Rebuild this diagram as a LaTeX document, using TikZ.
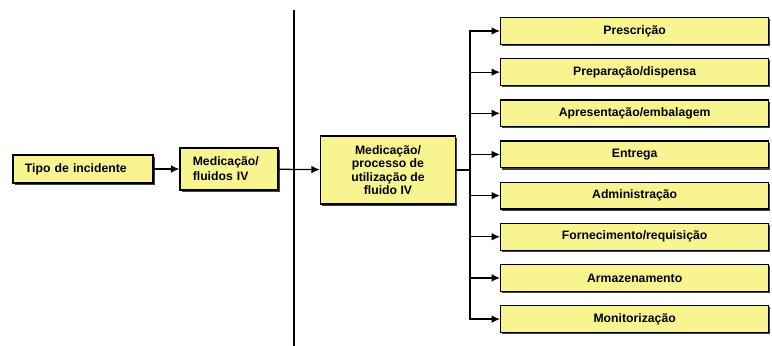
\documentclass[tikz,border=0pt]{standalone}
\usepackage{fontspec}
\setmainfont{Liberation Sans}
\usetikzlibrary{arrows.meta, positioning, shadows}
\definecolor{boxyellow}{HTML}{F8F490}

\begin{document}
\begin{tikzpicture}[
    x=0.025cm, y=-0.025cm,
    box/.style={rectangle, draw=black, line width=0.9pt, fill=boxyellow, font=\fontsize{8.7}{9.6}\selectfont\bfseries, drop shadow={shadow xshift=1.2pt, shadow yshift=-1.2pt, fill=black!75, opacity=1}},
    stage/.style={box, minimum width=6.7cm, minimum height=0.67cm, text centered},
    arr/.style={line width=0.9pt, -{Latex[length=6pt, width=5.5pt]}},
    wire/.style={line width=0.9pt},
    node distance=0.327cm
  ]
    \useasboundingbox (0,0) rectangle (772,346);

    % --- Left chain ---
    \node[box, minimum height=0.7cm, inner xsep=0.3cm, text width=2.9cm, align=left] (tipo) at (83,169) {Tipo de incidente};
    \node[box, minimum height=1.05cm, inner xsep=0.32cm, text width=1.81cm, align=left, font=\fontsize{8.7}{10.6}\selectfont\bfseries] (fluid) at (229,169) {Medicação/\\fluidos IV};
    \node[box, minimum width=3.375cm, minimum height=1.7cm, align=center] (proc) at (388,170) {Medicação/\\processo de\\utilização de\\fluido IV};

    % --- Stages ---
    \node[stage, anchor=west] (presc) at (500,31) {Prescrição};
    \node[stage, below=of presc] (prep) {Preparação/dispensa};
    \node[stage, below=of prep] (apres) {Apresentação/embalagem};
    \node[stage, below=of apres] (entr) {Entrega};
    \node[stage, below=of entr] (admin) {Administração};
    \node[stage, below=of admin] (forn) {Fornecimento/requisição};
    \node[stage, below=of forn] (armaz) {Armazenamento};
    \node[stage, below=of armaz] (monit) {Monitorização};

    % --- Divider ---
    \coordinate (divtop) at (294,10);
    \coordinate (divbot) at (294,346);
    \draw[wire] (divtop) -- (divbot);

    % --- Arrows ---
    \draw[arr] (tipo) -- (fluid);
    \draw[arr] (fluid) -- (proc);

    \coordinate (fork) at (470,170);
    \draw[wire] (proc) -- (fork);
    \draw[arr] (fork) |- (presc.west);
    \draw[arr] (fork) |- (prep.west);
    \draw[arr] (fork) |- (apres.west);
    \draw[arr] (fork) |- (entr.west);
    \draw[arr] (fork) |- (admin.west);
    \draw[arr] (fork) |- (forn.west);
    \draw[arr] (fork) |- (armaz.west);
    \draw[arr] (fork) |- (monit.west);

  \end{tikzpicture}
\end{document}
